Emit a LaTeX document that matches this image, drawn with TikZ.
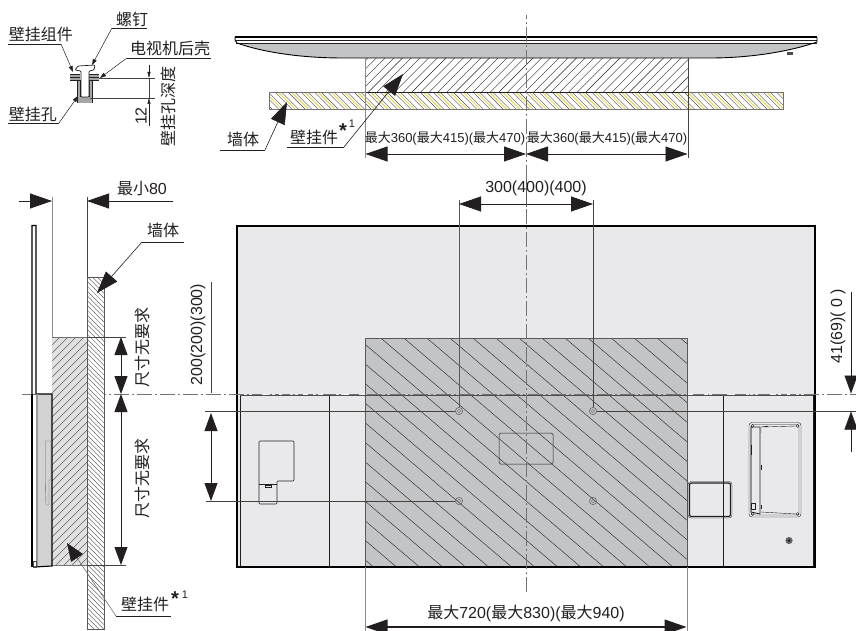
\documentclass[tikz,border=0pt]{standalone}
\usepackage{fontspec}
\setmainfont{Liberation Sans}
\newfontfamily\zhfont{Noto Sans CJK SC}
\usetikzlibrary{arrows.meta}
\definecolor{panel}{HTML}{E9E9EB}
\definecolor{bracketgray}{HTML}{C3C4C6}
\definecolor{ink}{HTML}{231F20}
\definecolor{wallyellow}{HTML}{E6DC50}
\newcommand{\zh}[1]{{\zhfont #1}}
\tikzset{
  bigtip/.tip={Triangle[length=22pt,width=15pt]},
  vtip/.tip={Triangle[length=18pt,width=13pt]},
  bigdim/.style={draw=ink,line width=0.8pt,{bigtip}-{bigtip}},
  vdim/.style={draw=ink,line width=0.8pt,{vtip}-{vtip}},
  tiponly/.style={draw=ink,line width=0.8pt,-{bigtip}},
  vtiponly/.style={draw=ink,line width=0.5pt,-{vtip}},
  tinydim/.style={draw=ink,line width=0.5pt,-{Triangle[length=6pt,width=3pt]}},
  ext/.style={draw=ink!85,line width=0.55pt},
  extgray/.style={draw=black!45,line width=0.8pt},
  leader/.style={draw=ink,line width=0.6pt},
  centerline/.style={draw=black!55,line width=0.8pt,dash pattern=on 15pt off 3pt on 2pt off 3pt},
  hatchline/.style={draw=ink,line width=0.4pt},
  outline/.style={draw=ink,line width=0.6pt},
  heavy/.style={draw=black,line width=1.6pt},
  lab/.style={inner sep=0pt,text=ink,font=\fontsize{16}{18}\selectfont},
  smalllab/.style={inner sep=0pt,text=ink,font=\fontsize{13}{15}\selectfont},
  hole/.style={draw=black!60,line width=0.6pt}
}
\begin{document}
\begin{tikzpicture}[x=1pt,y=-1pt]
\useasboundingbox (0,0) rectangle (856,631);
\fill[white] (0,0) rectangle (856,631);

% ===== front view =====
\fill[panel] (237,226) rectangle (815,567);
\fill[bracketgray] (365,338) rectangle (687,566);
\begin{scope}
  \clip (365,338) rectangle (687,566);
  \foreach \k in {-18,...,9} {
    \draw[hatchline] (365,{403+\k*19.6}) -- (687,{403+\k*19.6+274});
  }
\end{scope}
\draw[draw=black!65,line width=0.6pt] (365,566) -- (365,338) -- (687,338) -- (687,566);
\draw[outline,line width=0.5pt] (240,566) -- (240,395) -- (813,395) -- (813,566);
\draw[outline,line width=0.5pt] (329,395) -- (329,566) (723,395) -- (723,566);
\draw[heavy] (237,567) -- (237,226) -- (815,226) -- (815,567) -- cycle;
% centre connector
\draw[outline,line width=0.5pt,rounded corners=1.5pt] (499,433) rectangle (553,464);
% left cut-out
\draw[outline,rounded corners=1pt] (259,441) -- (294,441) -- (294,481) -- (277,481) -- (277,504) -- (259,504) -- cycle;
\draw[outline,line width=0.35pt] (259,484) -- (277,484);
\draw[outline,line width=0.35pt] (265,485) rectangle (271,487.5);
% right square
\draw[outline,line width=1.2pt,rounded corners=2pt] (689.5,483) rectangle (730.5,516.5);
\draw[outline,line width=0.35pt,rounded corners=3pt] (688,481.5) rectangle (732,518);
% right terminal
\draw[outline,line width=0.4pt,rounded corners=3pt] (749,422.5) rectangle (801,517);
\draw[outline,line width=0.4pt,rounded corners=2pt] (751,424.5) rectangle (799,515);
\draw[outline,line width=0.9pt] (760,427) -- (751,427) -- (751,512) -- (760,514) -- (760,427);
\draw[outline,line width=0.4pt] (762,427) -- (796,426) (761,512) -- (796,514) (761,433) -- (761,427) -- (768,426);
\draw[outline,line width=0.4pt] (761,465) -- (761,470) (761,505) -- (761,509) (751,445) -- (751,455);
\draw[outline,line width=0.35pt] (751,503) rectangle (755,509);
\foreach \p in {(752.5,426),(797.5,426),(752.5,514),(797.5,514)} { \draw[outline,line width=0.35pt] \p circle (1.5); }
% holes
\foreach \p in {(459,411),(593,411),(459,501),(593,501)} {
  \draw[hole] \p circle (3.6);
  \draw[hole,line width=0.4pt] \p circle (1.6);
}
\fill[black!60] (789,540.5) circle (3.6);
\fill[black!90] (789,540.5) circle (1.4);

% horizontal & vertical centre lines
\draw[centerline] (22,394) -- (856,394);
\draw[draw=white,line width=0.8pt,dash pattern=on 5pt off 12pt on 3pt off 21pt] (262,394) -- (365,394);
\draw[draw=white,line width=0.8pt,dash pattern=on 5pt off 12pt on 3pt off 21pt] (688,394) -- (800,394);
\draw[draw=ink!80,line width=0.5pt] (240,395) -- (813,395);

% hole dimension 300
\draw[ext,line width=0.7pt,draw=black!65] (459,200) -- (459,407);
\draw[ext,line width=0.7pt] (593,200) -- (593,407);
\coordinate (d300a) at (459,204);
\coordinate (d300b) at (593,204);
\draw[bigdim] (d300a) -- (d300b);
\node[lab] (t300) at (536,188) {300(400)(400)};

% extension lines for 200 / 41
\draw[ext] (205,411) -- (455,411);
\draw[ext] (597,411) -- (856,411);
\draw[ext] (206,501) -- (455,501);
\coordinate (d200a) at (211,413);
\coordinate (d200b) at (211,501);
\draw[vdim] (d200a) -- (d200b);
\draw[ext,line width=0.7pt] (211,282) -- (211,393);
\node[lab,rotate=90] (t200) at (198,334.5) {200(200)(300)};
\coordinate (d41top) at (851,292);
\coordinate (d41a) at (851,393.5);
\draw[vtiponly] (d41top) -- (d41a);
\coordinate (d41bot) at (851,452);
\coordinate (d41b) at (851,411.5);
\draw[vtiponly] (d41bot) -- (d41b);
\node[lab,rotate=90] (t41) at (838,326) {41(69)( 0 )};

% bottom dimension
\draw[extgray] (365,567) -- (365,631);
\draw[extgray] (687,567) -- (687,631);
\coordinate (d720a) at (365.5,627);
\coordinate (d720b) at (686.5,627);
\draw[bigdim,line width=1.2pt] (d720a) -- (d720b);
\node[lab] (t720) at (526,613) {\zh{最大}720(\zh{最大}830)(\zh{最大}940)};

% ===== top view =====
\fill[bracketgray] (235,37) -- (817,37) -- (817,42) .. controls (785,53) and (745,58) .. (710,58) -- (343,58) .. controls (300,58) and (262,52) .. (236,42) -- cycle;
\fill[white] (236,38) rectangle (817,43);
\draw[draw=black,line width=1.3pt] (235,37) -- (817,37);
\draw[draw=ink,line width=0.5pt] (236,40) -- (817,40);
\draw[draw=ink,line width=0.7pt] (236,43) -- (817,43);
\draw[draw=black,line width=0.9pt] (235,37) -- (235,40) -- (237,43) .. controls (262,52) and (300,58) .. (343,58) -- (710,58) .. controls (745,58) and (785,53) .. (817,42) -- (817,37);
\fill[black!70] (787,52) rectangle (793,55);
% bracket top
\begin{scope}
  \clip (365,58) rectangle (688,92);
  \foreach \k in {0,...,44} {
    \draw[hatchline] ({325+\k*8.7},92) -- ({325+\k*8.7+34},58);
  }
\end{scope}
% wall top
\fill[white] (269,92) rectangle (783,109);
\begin{scope}
  \clip (269,92) rectangle (783,109);
  \foreach \k in {0,...,40} {
    \draw[draw=wallyellow,line width=1pt] ({262+\k*13.2+3},92) -- ({262+\k*13.2+20},109);
  }
  \foreach \k in {0,...,81} {
    \draw[draw=ink!80,line width=0.4pt] ({255+\k*6.6},92) -- ({255+\k*6.6+17},109);
  }
\end{scope}
\draw[draw=black!55,line width=0.5pt] (269,92) rectangle (783,109);
\draw[draw=ink,line width=0.5pt] (365,92) -- (688,92);
% extensions
\draw[extgray] (365,58) -- (365,158);
\draw[ext,line width=0.7pt] (688,58) -- (688,158);
\coordinate (d360a) at (365.5,154);
\coordinate (d360c) at (526,154);
\coordinate (d360b) at (687.5,154);
\draw[bigdim] (d360a) -- (d360c);
\draw[bigdim] (d360c) -- (d360b);
\node[smalllab] (t360a) at (445,138) {\zh{最大}360(\zh{最大}415)(\zh{最大}470)};
\node[smalllab] (t360b) at (607,138) {\zh{最大}360(\zh{最大}415)(\zh{最大}470)};
% leaders
\node[lab] (twall) at (243,139) {\zh{墙体}};
\coordinate (w1) at (220,150);
\coordinate (w2) at (265,150);
\coordinate (w3) at (287,102);
\draw[leader] (w1) -- (w2);
\draw[tiponly,line width=0.6pt] (w2) -- (w3);
\node[lab] (tbr) at (314,137) {\zh{壁挂件}};
\node[lab,font=\fontsize{20}{20}\selectfont\bfseries] (tbrs) at (343,131) {*};
\node[smalllab,font=\fontsize{11}{12}\selectfont] (tbr1) at (352,124) {1};
\coordinate (b1) at (287,147);
\coordinate (b2) at (344,147);
\coordinate (b3) at (403,74);
\draw[leader] (b1) -- (b2);
\draw[tiponly,line width=0.6pt] (b2) -- (b3);
% centre line vertical
\draw[centerline] (526,592) -- (526,207);
\draw[draw=black!65,line width=0.8pt] (526,180) -- (526,207);
\draw[centerline] (526,180) -- (526,15);

% ===== side view =====
\draw[extgray] (52,197) -- (52,337);
\draw[ext,line width=0.7pt] (87,197) -- (87,277);
\coordinate (m1) at (19,201);
\coordinate (m2) at (52,201);
\coordinate (m3) at (173,201);
\coordinate (m4) at (87,201);
\draw[tiponly] (m1) -- (m2);
\draw[tiponly] (m3) -- (m4);
\node[lab] (t80) at (142,189) {\zh{最小}80};
% bracket
\fill[black!12] (52,337) rectangle (87,565);
\begin{scope}
  \clip (52,337) rectangle (87,565);
  \foreach \k in {0,...,34} {
    \draw[hatchline,line width=0.35pt,draw=black!75] (52,{345+\k*8}) -- (87,{345+\k*8-35});
  }
\end{scope}
\draw[draw=black!55,line width=0.5pt] (87,337) -- (52,337) (52,565) -- (87,565);
% wall
\fill[white] (87,277) rectangle (104,629);
\begin{scope}
  \clip (87,277) rectangle (104,629);
  \foreach \k in {-1,...,75} {
    \draw[hatchline,line width=0.35pt,draw=black!75] (87,{262+\k*4.8}) -- (104,{262+\k*4.8+17});
  }
\end{scope}
\draw[draw=black!65,line width=0.6pt] (87,277) rectangle (104,629);
% tv side
\fill[panel!90!black] (36,394) rectangle (52,566);
\fill[white] (32,226) rectangle (36,394);
\draw[heavy,line width=1.1pt] (32,394) -- (32,225.5) -- (36,225.5) -- (36,394) -- (52,394) -- (52,566) -- (34,567);
\draw[heavy,line width=1.4pt] (32,394) -- (32,567);
\fill[black!40] (36,394) rectangle (38,566);
\draw[draw=black!60,line width=0.4pt] (45.5,441) -- (45.5,482) (45.5,441) -- (51,441) -- (51,480) -- (49,480) -- (49,505) -- (46,505) -- (45.5,482);
\draw[draw=black!70,line width=0.5pt] (33,561) rectangle (36,567);
% dims
\draw[ext] (87,337) -- (126,337);
\draw[ext] (87,565) -- (126,565);
\coordinate (r1) at (121,337);
\coordinate (r2) at (121,394);
\coordinate (r3) at (121,565);
\draw[vdim] (r1) -- (r2);
\draw[vdim] (r2) -- (r3);
\node[lab,rotate=90] (tna) at (142,347) {\zh{尺寸无要求}};
\node[lab,rotate=90] (tnb) at (142,478) {\zh{尺寸无要求}};
\node[lab] (twall2) at (163,230) {\zh{墙体}};
\coordinate (q1) at (184,242);
\coordinate (q2) at (142,242);
\coordinate (q3) at (97,293);
\draw[leader] (q1) -- (q2);
\draw[tiponly,line width=0.6pt] (q2) -- (q3);
\node[lab] (tbr2) at (145,604) {\zh{壁挂件}};
\node[lab,font=\fontsize{20}{20}\selectfont\bfseries] (tbr2s) at (175,599) {*};
\node[smalllab,font=\fontsize{11}{12}\selectfont] (tbr21) at (185,595) {1};
\coordinate (s1) at (171,616);
\coordinate (s2) at (116,616);
\coordinate (s3) at (67,543);
\draw[leader] (s1) -- (s2);
\draw[tiponly,line width=0.6pt,draw=black!55,-{Triangle[length=18pt,width=14pt,color=ink]}] (s2) -- (s3);

% ===== screw detail =====
\fill[black!35] (77,78) -- (77,103) -- (92,103) -- (92,78) -- cycle;
\fill[white] (80,78) rectangle (89,97);
\fill[black!35] (70,74) rectangle (80,80);
\fill[black!35] (88,74) rectangle (99,80);
\draw[outline,line width=0.5pt] (70,74) -- (80,74) (70,77) -- (80,77) (70,80) -- (80,80) (88,74) -- (99,74) (88,77) -- (99,77) (88,80) -- (99,80);
\draw[outline,line width=0.7pt] (80,80) -- (80,97) (89,80) -- (89,97) (77,80) -- (77,103) (92,80) -- (92,103);
\filldraw[fill=white,draw=ink,line width=0.7pt,rounded corners=1pt] (75,70) -- (78,66) -- (95,65) -- (94,70) -- (89,71) -- (89,97) -- (81,97) -- (81,71) -- cycle;
\draw[ext] (99,78) -- (155,78);
\draw[ext] (90,98) -- (155,98);
\coordinate (k1) at (149,65);
\coordinate (k2) at (149,78);
\coordinate (k3) at (149,126);
\coordinate (k4) at (149,98);
\draw[tinydim] (k1) -- (k2);
\draw[tinydim] (k3) -- (k4);
\draw[ext] (149,78) -- (149,98);
\node[lab] (tzu) at (41,34) {\zh{壁挂组件}};
\node[lab] (tluo) at (132,19) {\zh{螺钉}};
\node[lab] (tke) at (170,48) {\zh{电视机后壳}};
\node[lab] (tkong) at (33,114) {\zh{壁挂孔}};
\node[lab,rotate=90] (t12) at (141,116) {12};
\node[lab,rotate=90] (tdep) at (168,107) {\zh{壁挂孔深度}};
\coordinate (a1) at (8,44);
\coordinate (a2) at (61,44);
\coordinate (a3) at (73,72);
\draw[leader,line width=0.5pt] (a1) -- (a2);
\draw[tinydim,-{Triangle[length=6pt,width=4pt]}] (a2) -- (a3);
\coordinate (c1) at (147,28);
\coordinate (c2) at (112,28);
\coordinate (c3) at (92,65);
\draw[leader,line width=0.5pt] (c1) -- (c2);
\draw[tinydim,-{Triangle[length=6pt,width=4pt]}] (c2) -- (c3);
\coordinate (e1) at (211,58);
\coordinate (e2) at (127,58);
\coordinate (e3) at (100,78);
\draw[leader,line width=0.5pt] (e1) -- (e2);
\draw[tinydim,-{Triangle[length=6pt,width=4pt]}] (e2) -- (e3);
\coordinate (f1) at (8,123);
\coordinate (f2) at (59,123);
\coordinate (f3) at (78,96);
\draw[leader,line width=0.5pt] (f1) -- (f2);
\draw[tinydim,-{Triangle[length=6pt,width=4pt]}] (f2) -- (f3);
\end{tikzpicture}
\end{document}
